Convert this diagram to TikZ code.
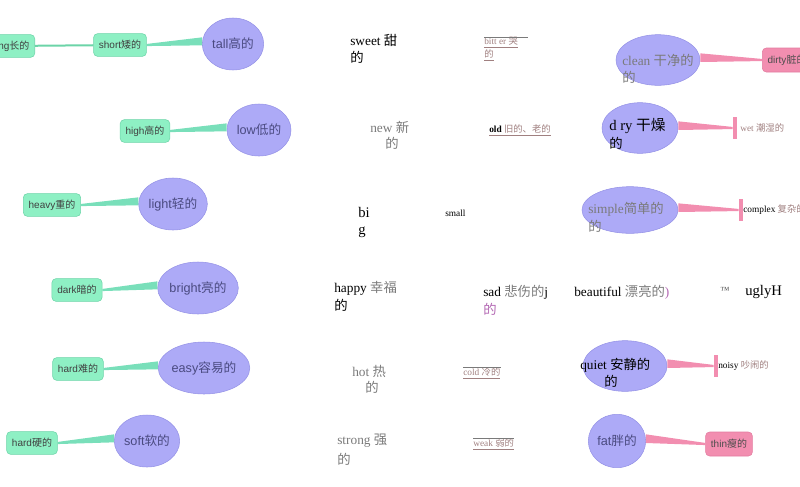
\documentclass[tikz,border=0pt]{standalone}
\usepackage{fontspec}
\setmainfont{Liberation Serif}
\newfontfamily\sansf{Liberation Sans}
\newfontfamily\cjk{Noto Sans CJK SC}
\newcommand{\zh}[1]{{\cjk #1}}
\usetikzlibrary{shapes.geometric}
\definecolor{gfill}{HTML}{8EF0C4}
\definecolor{gdraw}{HTML}{6CD4A8}
\definecolor{efill}{HTML}{ADAAF7}
\definecolor{edraw}{HTML}{9592E6}
\definecolor{pfill}{HTML}{F28EB0}
\definecolor{pdraw}{HTML}{E37CA0}
\definecolor{etext}{HTML}{4A4A80}
\definecolor{gtxt}{HTML}{7A7A7A}
\definecolor{ptxt}{HTML}{A08080}
\tikzset{
  x=0.75pt,y=-0.75pt,
  gbox/.style={draw=gdraw,fill=gfill,rounded corners=3pt,font=\sansf\fontsize{7.5}{8}\selectfont,text=black!75,minimum height=17pt,inner sep=4pt},
  pbox/.style={draw=pdraw,fill=pfill,rounded corners=3pt,font=\sansf\fontsize{7.5}{8}\selectfont,text=black!70,minimum height=18pt,inner sep=4pt},
  ell/.style={ellipse,draw=edraw,fill=efill,inner sep=0pt,font=\sansf\fontsize{9.5}{10}\selectfont,text=etext},
  gw/.style={fill=gfill!85!teal},
  pw/.style={fill=pfill},
  tab/.style={fill=pfill,minimum width=3pt,minimum height=16pt,inner sep=0pt},
  big/.style={font=\fontsize{10}{11}\selectfont,text=black,anchor=west,inner sep=0pt},
  grey/.style={font=\fontsize{10}{11}\selectfont,text=gtxt,anchor=west,inner sep=0pt},
  sm/.style={font=\fontsize{7}{8}\selectfont,text=ptxt,anchor=west,inner sep=0pt},
}
\begin{document}
\begin{tikzpicture}
\useasboundingbox (0,0) rectangle (800,486);
\clip (0,0) rectangle (800,486);
% ---- green mind maps ----
\node[gbox,anchor=east] (long) at (35,46) {long\zh{长的}};
\node[gbox] (short) at (120,45) {short\zh{矮的}};
\node[gbox] (high) at (145,131) {high\zh{高的}};
\node[gbox] (heavy) at (52,205) {heavy\zh{重的}};
\node[gbox] (dark) at (77,290) {dark\zh{暗的}};
\node[gbox] (hardA) at (78,369) {hard\zh{难的}};
\node[gbox] (hardB) at (32,443) {hard\zh{硬的}};
\draw[gdraw,line width=1.5pt] (long) -- (short);
\node[ell,minimum width=46pt,minimum height=39pt] (tall) at (233,44) {tall\zh{高的}};
\node[ell,minimum width=48pt,minimum height=39pt] (low) at (259,130) {low\zh{低的}};
\node[ell,minimum width=50pt,minimum height=39pt] (light) at (173,204) {light\zh{轻的}};
\node[ell,minimum width=58pt,minimum height=39pt] (bright) at (198,288) {bright\zh{亮的}};
\node[ell,minimum width=67pt,minimum height=39pt] (easy) at (204,368) {easy\zh{容易的}};
\node[ell,minimum width=49pt,minimum height=39pt] (soft) at (147,441) {soft\zh{软的}};
\foreach \e/\b in {tall/short,low/high,light/heavy,bright/dark,easy/hardA,soft/hardB}{
  \fill[gw] ([yshift=5pt]\e.west) -- ([yshift=0.8pt]\b.east) -- ([yshift=-0.8pt]\b.east) -- ([yshift=-1pt]\e.west) -- cycle;
}
% ---- pink mind maps ----
\node[ell,minimum width=63pt,minimum height=38pt] (clean) at (658,60) {};
\node[pbox,anchor=west] (dirty) at (762,60) {dirty\zh{脏的}};
\node[ell,minimum width=57pt,minimum height=38pt] (dry) at (640,128) {};
\node[tab] (wett) at (735,128) {};
\node[ell,minimum width=72pt,minimum height=35pt] (simple) at (630,210) {};
\node[tab] (cxt) at (741,210) {};
\node[ell,minimum width=63pt,minimum height=38pt] (quiet) at (625,366) {};
\node[tab] (nst) at (716,366) {};
\node[ell,minimum width=43pt,minimum height=40pt] (fat) at (617,441) {fat\zh{胖的}};
\node[pbox] (thin) at (729,444) {thin\zh{瘦的}};
\foreach \e/\b in {clean/dirty,dry/wett,simple/cxt,quiet/nst,fat/thin}{
  \fill[pw] ([yshift=5pt]\e.east) -- ([yshift=0.8pt]\b.west) -- ([yshift=-0.8pt]\b.west) -- ([yshift=-1.5pt]\e.east) -- cycle;
}
\node[grey] (cleant) at (622,60) {clean \zh{干净的}};
\node[grey] (cleand) at (622,77) {\zh{的}};
\node[big,font=\fontsize{11}{12}\selectfont] (dryt) at (609,126) {d ry \zh{干燥}};
\node[big] (dryd) at (609,143) {\zh{的}};
\node[grey] (simplet) at (588,209) {simple\zh{简单的}};
\node[grey] (simpled) at (588,226) {\zh{的}};
\node[big] (quiett) at (580,365) {quiet \zh{安静的}};
\node[big] (quietd) at (604,381) {\zh{的}};
\node[sm] (wet) at (740,128) {wet \zh{潮湿的}};
\node[sm,text=black] (complex) at (743,210) {complex \textcolor{ptxt}{\zh{复杂的}}};
\node[sm,text=black] (noisy) at (718,366) {noisy \textcolor{ptxt}{\zh{吵闹的}}};
% ---- middle texts ----
\node[big] (sweet) at (350,40) {sweet \zh{甜}};
\node[big] (sweetd) at (350,57) {\zh{的}};
\node[sm] (bitter) at (484,43) {\underline{bitt er \zh{哭}}};
\node[sm] (bitterd) at (484,55) {\underline{\zh{的}}};
\draw[gtxt,line width=0.4pt] (bitter.north west) -- ++(44,0) coordinate (bl);
\node[grey] (new) at (370,127) {new \zh{新}};
\node[grey] (newd) at (385,143) {\zh{的}};
\node[sm] (old) at (489,130) {\underline{\textcolor{black}{\textbf{old}} \zh{旧的、老的}}};
\node[big,font=\fontsize{11}{12}\selectfont] (bi) at (358,212) {bi};
\node[big,font=\fontsize{11}{12}\selectfont] (g) at (358,232) {g};
\node[sm,text=black] (small) at (445,213) {small};
\node[big] (happy) at (334,288) {happy \textcolor{gtxt}{\zh{幸福}}};
\node[big] (happyd) at (334,305) {\zh{的}};
\node[big] (sad) at (483,292) {sad \textcolor{gtxt}{\zh{悲伤的}}j};
\node[big,text=violet!60] (sadd) at (483,309) {\zh{的}};
\node[big] (beautiful) at (574,292) {beautiful \textcolor{gtxt}{\zh{漂亮的}}\textcolor{violet!60}{)}};
\node[sm,text=black!70] (tm) at (720,290) {™};
\node[big,font=\fontsize{11}{12}\selectfont] (ugly) at (745,292) {uglyH};
\node[grey] (hot) at (352,371) {hot \zh{热}};
\node[grey] (hotd) at (365,387) {\zh{的}};
\node[sm] (cold) at (463,373) {\underline{cold \zh{冷的}}};
\draw[gtxt,line width=0.4pt] (cold.north west) -- (cold.north east);
\node[grey] (strong) at (337,441) {strong \zh{强}};
\node[grey] (strongd) at (337,459) {\zh{的}};
\node[sm] (weak) at (473,444) {\underline{weak \zh{弱的}}};
\draw[gtxt,line width=0.4pt] (weak.north west) -- (weak.north east);
\end{tikzpicture}
\end{document}
